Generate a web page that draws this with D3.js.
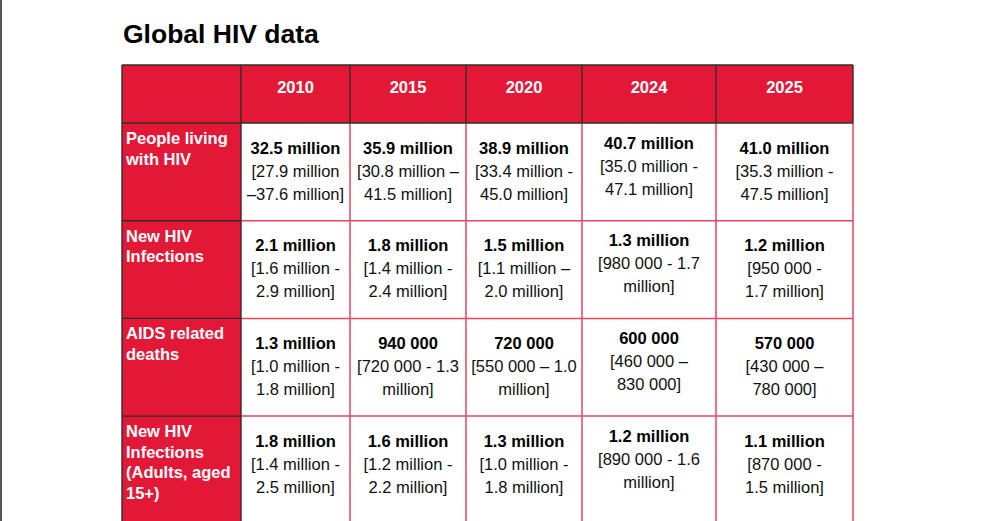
<!DOCTYPE html>
<html>
<head>
<meta charset="utf-8">
<script src="https://cdn.jsdelivr.net/npm/d3@7/dist/d3.min.js"></script>
<style>
  html, body { margin: 0; padding: 0; background: #fff; }
  svg { display: block; }
  text { font-family: "Liberation Sans", Arial, sans-serif; }
</style>
</head>
<body>
<svg id="chart" width="1000" height="521"></svg>
<script>
// ---- Data ----
const title = "Global HIV data";
const years = ["2010", "2015", "2020", "2024", "2025"];
const indicators = [
  ["People living", "with HIV"],
  ["New HIV", "Infections"],
  ["AIDS related", "deaths"],
  ["New HIV", "Infections", "(Adults, aged", "15+)"]
];
const estPeopleLiving = ["32.5 million", "35.9 million", "38.9 million", "40.7 million", "41.0 million"];
const estNewInfections = ["2.1 million", "1.8 million", "1.5 million", "1.3 million", "1.2 million"];
const estAidsDeaths = ["1.3 million", "940 000", "720 000", "600 000", "570 000"];
const estNewAdults = ["1.8 million", "1.6 million", "1.3 million", "1.2 million", "1.1 million"];
const rangePeopleLiving = [
  ["[27.9 million", "–37.6 million]"], ["[30.8 million –", "41.5 million]"],
  ["[33.4 million -", "45.0 million]"], ["[35.0 million -", "47.1 million]"],
  ["[35.3 million -", "47.5 million]"]
];
const rangeNewInfections = [
  ["[1.6 million -", "2.9 million]"], ["[1.4 million -", "2.4 million]"],
  ["[1.1 million –", "2.0 million]"], ["[980 000 - 1.7", "million]"],
  ["[950 000 -", "1.7 million]"]
];
const rangeAidsDeaths = [
  ["[1.0 million -", "1.8 million]"], ["[720 000 - 1.3", "million]"],
  ["[550 000 – 1.0", "million]"], ["[460 000 –", "830 000]"],
  ["[430 000 –", "780 000]"]
];
const rangeNewAdults = [
  ["[1.4 million -", "2.5 million]"], ["[1.2 million -", "2.2 million]"],
  ["[1.0 million -", "1.8 million]"], ["[890 000 - 1.6", "million]"],
  ["[870 000 -", "1.5 million]"]
];
const estimates = [estPeopleLiving, estNewInfections, estAidsDeaths, estNewAdults];
const ranges = [rangePeopleLiving, rangeNewInfections, rangeAidsDeaths, rangeNewAdults];

// ---- Layout ----
const RED = "#e31837", DARK = "#2e2e2e", PINK = "#e4475e";
const tableLeft = 122, tableTop = 65, headerH = 58, svgH = 521;
const colWidths = [119, 109, 116, 116, 134, 137];
const columns = ["label"].concat(years);
const starts = d3.cumsum([0].concat(colWidths.slice(0, -1))).map(v => v + tableLeft);
const xStart = d3.scaleOrdinal(columns, starts);
const xWidth = d3.scaleOrdinal(columns, colWidths);
const tableRight = tableLeft + d3.sum(colWidths);
const rowIdx = d3.range(indicators.length);
const y = d3.scaleBand(rowIdx, [tableTop + headerH, tableTop + headerH + 4 * 97.7]).padding(0);
const rowBottom = i => (i === indicators.length - 1 ? svgH + 5 : y(i) + y.bandwidth());
const colShift = { "2024": -5 };

const svg = d3.select("#chart");

// left page edge
svg.append("rect").attr("x", 0).attr("y", 0).attr("width", 2).attr("height", svgH).attr("fill", "#555");

// title
svg.append("text").attr("x", 123).attr("y", 43)
  .attr("font-size", 26.5).attr("font-weight", "bold").attr("fill", "#000").text(title);

// header backgrounds
svg.append("rect").attr("x", tableLeft).attr("y", tableTop)
  .attr("width", tableRight - tableLeft).attr("height", headerH).attr("fill", RED);
// label column backgrounds
svg.append("rect").attr("x", tableLeft).attr("y", tableTop + headerH)
  .attr("width", xWidth("label")).attr("height", svgH - tableTop - headerH + 5).attr("fill", RED);

// data grid lines (pink)
const g = svg.append("g");
rowIdx.forEach(i => {
  if (i > 0) g.append("line").attr("x1", xStart("2010")).attr("x2", tableRight)
    .attr("y1", y(i)).attr("y2", y(i)).attr("stroke", PINK).attr("stroke-width", 1.5);
});
years.concat(["end"]).forEach((yr, j) => {
  const x = yr === "end" ? tableRight : xStart(yr);
  if (yr !== "2010") g.append("line").attr("x1", x).attr("x2", x)
    .attr("y1", tableTop + headerH).attr("y2", svgH + 5).attr("stroke", PINK).attr("stroke-width", 1.5);
});

// dark borders: header & label column
const d = svg.append("g").attr("stroke", DARK).attr("stroke-width", 1.4);
d.append("line").attr("x1", tableLeft).attr("x2", tableRight).attr("y1", tableTop).attr("y2", tableTop);
d.append("line").attr("x1", tableLeft).attr("x2", tableRight).attr("y1", tableTop + headerH).attr("y2", tableTop + headerH);
d.append("line").attr("x1", tableLeft).attr("x2", tableLeft).attr("y1", tableTop).attr("y2", svgH + 5);
columns.slice(1).concat(["end"]).forEach(c => {
  const x = c === "end" ? tableRight : xStart(c);
  d.append("line").attr("x1", x).attr("x2", x).attr("y1", tableTop).attr("y2", tableTop + headerH);
});
d.append("line").attr("x1", xStart("2010")).attr("x2", xStart("2010"))
  .attr("y1", tableTop + headerH).attr("y2", svgH + 5);
rowIdx.forEach(i => {
  if (i > 0) d.append("line").attr("x1", tableLeft).attr("x2", xStart("2010"))
    .attr("y1", y(i)).attr("y2", y(i));
});

// header text
svg.append("g").selectAll("text").data(years).join("text")
  .attr("x", yr => xStart(yr) + xWidth(yr) / 2)
  .attr("y", tableTop + 28)
  .attr("text-anchor", "middle").attr("font-size", 16.5).attr("font-weight", "bold")
  .attr("fill", "#fff").text(yr => yr);

// row labels
const lbl = svg.append("g").selectAll("text").data(indicators).join("text")
  .attr("font-size", 16.5).attr("font-weight", "bold").attr("fill", "#fff");
lbl.each(function(lines, i) {
  d3.select(this).selectAll("tspan").data(lines).join("tspan")
    .attr("x", tableLeft + 4)
    .attr("y", (l, k) => y(i) + 21 + k * 20.5)
    .text(l => l);
});

// cells
rowIdx.forEach(i => {
  years.forEach((yr, j) => {
    const cx = xStart(yr) + xWidth(yr) / 2;
    const top = y(i) + 30.5 + (colShift[yr] || 0);
    const t = svg.append("text").attr("text-anchor", "middle").attr("font-size", 16.5).attr("fill", "#000");
    t.append("tspan").attr("x", cx).attr("y", top).attr("font-weight", "bold").text(estimates[i][j]);
    ranges[i][j].forEach((line, k) => {
      t.append("tspan").attr("x", cx).attr("y", top + 23 * (k + 1)).attr("fill", "#111").text(line);
    });
  });
});
</script>
</body>
</html>
